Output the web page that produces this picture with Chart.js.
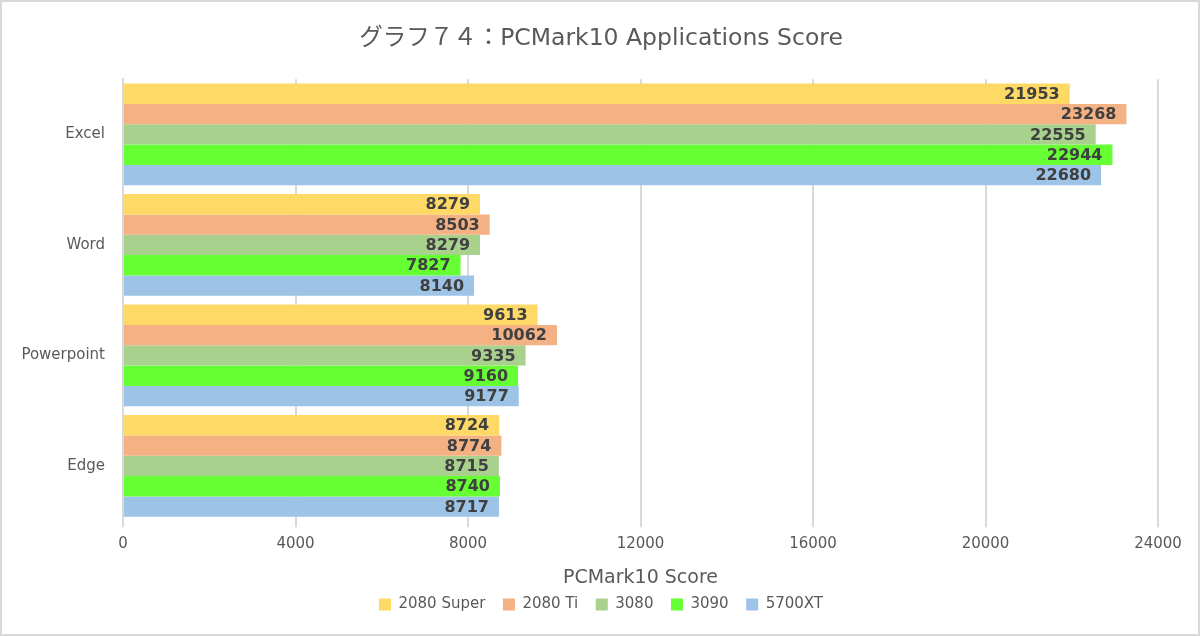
<!DOCTYPE html>
<html>
<head>
<meta charset="utf-8">
<script src="https://cdn.jsdelivr.net/npm/chart.js@4"></script>
<style>
  html, body { margin: 0; padding: 0; background: #fff; }
  #wrap { position: relative; width: 1196px; height: 632px; border: 2px solid #d9d9d9; }
</style>
</head>
<body>
<div id="wrap"><canvas id="chart" width="1196" height="632"></canvas></div>
<script>
const categories = ['Excel', 'Word', 'Powerpoint', 'Edge'];
const seriesNames = ['2080 Super', '2080 Ti', '3080', '3090', '5700XT'];
const s2080Super = [21953, 8279, 9613, 8724];
const s2080Ti = [23268, 8503, 10062, 8774];
const s3080 = [22555, 8279, 9335, 8715];
const s3090 = [22944, 7827, 9160, 8740];
const s5700XT = [22680, 8140, 9177, 8717];
const xTicks = [0, 4000, 8000, 12000, 16000, 20000, 24000];

const colors = ['#FFD966', '#F4B183', '#A9D18E', '#66FF33', '#9DC3E6'];
const values = [s2080Super, s2080Ti, s3080, s3090, s5700XT];
const font = '"DejaVu Sans", "Noto Sans CJK JP", sans-serif';

// value labels drawn inside the bar ends
const barLabels = {
  id: 'barLabels',
  afterDatasetsDraw(chart) {
    const ctx = chart.ctx;
    ctx.save();
    ctx.font = 'bold 16px ' + font;
    ctx.fillStyle = '#404040';
    ctx.textAlign = 'right';
    ctx.textBaseline = 'middle';
    chart.data.datasets.forEach((ds, i) => {
      chart.getDatasetMeta(i).data.forEach((bar, j) => {
        ctx.fillText(String(ds.data[j]), bar.x - 10, bar.y + 1);
      });
    });
    ctx.restore();
  }
};

new Chart(document.getElementById('chart').getContext('2d'), {
  type: 'bar',
  data: {
    labels: categories,
    datasets: seriesNames.map((name, i) => ({
      label: name,
      data: values[i],
      backgroundColor: colors[i],
      categoryPercentage: 0.92,
      barPercentage: 1.0
    }))
  },
  options: {
    indexAxis: 'y',
    responsive: false,
    animation: false,
    layout: { padding: { left: 2, right: 0, top: 0, bottom: 12 } },
    plugins: {
      title: {
        display: true,
        text: 'グラフ７４：PCMark10 Applications Score',
        color: '#595959',
        font: { family: font, size: 23.5, weight: 'normal' },
        padding: { top: 23, bottom: 26 }
      },
      legend: {
        position: 'bottom',
        labels: {
          color: '#595959',
          font: { family: font, size: 15 },
          boxWidth: 12,
          boxHeight: 12,
          padding: 8,
          // extra space between items, as in the original legend
          generateLabels: chart => Chart.defaults.plugins.legend.labels.generateLabels(chart)
            .map((l, i, all) => ({ ...l, text: i < all.length - 1 ? l.text + '  ' : l.text }))
        }
      },
      tooltip: { enabled: false }
    },
    scales: {
      x: {
        min: 0,
        max: 24000,
        afterBuildTicks: s => { s.ticks = xTicks.map(v => ({ value: v })); },
        afterFit: s => { s.paddingRight = 40; },
        grid: { color: '#d9d9d9', lineWidth: 2, drawTicks: true, tickLength: 6 },
        border: { display: false },
        ticks: {
          color: '#595959',
          font: { family: font, size: 15 },
          padding: 8,
          callback: v => String(v)
        },
        title: {
          display: true,
          text: 'PCMark10 Score',
          color: '#595959',
          font: { family: font, size: 19 },
          padding: { top: 5, bottom: 0 }
        }
      },
      y: {
        grid: { display: false },
        border: { color: '#d9d9d9', width: 2 },
        ticks: { color: '#595959', font: { family: font, size: 15 }, padding: 10 },
        afterFit: s => { s.width = 119; }
      }
    }
  },
  plugins: [barLabels]
});
</script>
</body>
</html>
